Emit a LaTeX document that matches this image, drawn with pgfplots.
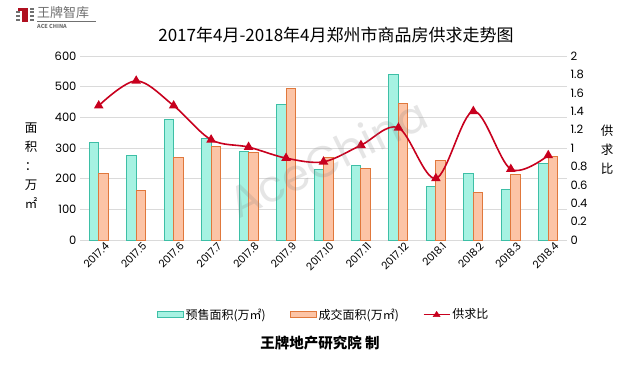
\documentclass[border=0pt]{standalone}
\usepackage{pgfplots}
\pgfplotsset{compat=1.18}
\usepackage{pgfplotstable}
\usepackage{fontspec}
\setmainfont{Noto Sans CJK SC}
\newfontfamily\numfont{Poppins}
\definecolor{tealfill}{HTML}{A6F2E2}
\definecolor{tealedge}{HTML}{3DBFA6}
\definecolor{orfill}{HTML}{FCC4A6}
\definecolor{oredge}{HTML}{E0783C}
\definecolor{linered}{HTML}{C8001E}
\definecolor{gridgray}{HTML}{DADADA}
\definecolor{logored}{HTML}{B01020}
\definecolor{logogray}{HTML}{707070}
\pgfplotstableread{
x pre deal ratio
0 317 218 1.46
1 276 160 1.73
2 392 269 1.46
3 332 304 1.09
4 290 285 1.01
5 443 494 0.89
6 231 268 0.85
7 243 234 1.03
8 541 445 1.22
9 176 260 0.67
10 216 155 1.40
11 166 214 0.77
12 251 271 0.92
}\datatable
\begin{document}
\begin{tikzpicture}[x=1pt,y=1pt]
\useasboundingbox (0,0) rectangle (640,365);
\fill[white] (0,0) rectangle (640,365);
% logo
\fill[logored] (22,343) rectangle (28,357);
\fill[logored] (18,354) rectangle (28,357);
\foreach \yy in {343.5,347.5,351.5,355}{\fill[logogray] (30,\yy) rectangle (34,\yy+2);}
\foreach \yy in {343.5,347.5,351.5}{\fill[logogray] (16,\yy) rectangle (20,\yy+2);}
\node[anchor=west,inner sep=0pt,font=\fontsize{13}{13}\selectfont,text=logogray] at (37,352) {王牌智库};
\draw[logogray,line width=0.4pt] (37,344) -- (96,344);
\node[anchor=west,inner sep=0pt,font=\fontsize{5.5}{6}\selectfont\bfseries,text=logogray] at (37,339) {ACE CHINA};
% title
\node[font=\fontsize{17}{17}\selectfont] at (336,330) {2017年4月-2018年4月郑州市商品房供求走势图};
\begin{axis}[
  at={(80pt,125pt)}, anchor=south west,
  width=487pt, height=184pt, scale only axis,
  xmin=-0.5, xmax=12.5, ymin=0, ymax=600,
  ytick={0,100,...,600},
  xtick={0,...,12},
  xticklabels={2017.4,2017.5,2017.6,2017.7,2017.8,2017.9,2017.10,2017.11,2017.12,2018.1,2018.2,2018.3,2018.4},
  xticklabel style={rotate=45, anchor=east, font=\numfont\fontsize{10.5}{10.5}\selectfont, inner sep=0pt, yshift=-9pt, xshift=3pt},
  yticklabel style={font=\numfont\fontsize{11.5}{12}\selectfont, text=black},
  /pgf/number format/assume math mode=true,
  axis y line*=left, axis x line*=bottom,
  y axis line style={draw=none},
  x axis line style={draw=gridgray, line width=0.8pt},
  major tick length=0pt,
  ymajorgrids, grid style={gridgray, line width=0.7pt},
  ybar=0pt, bar width=9.5pt,
  legend style={at={(0.5,-0.35)}, anchor=north, draw=none, legend columns=3,
    font=\fontsize{12}{12}\selectfont,
    /tikz/every even column/.append style={column sep=22pt}},
  legend image code/.code={\draw[#1] (0pt,-3pt) rectangle (26pt,3pt);},
  clip=false,
]
\addplot[fill=tealfill, draw=tealedge, line width=1pt] table[x=x,y=pre] {\datatable};
\addlegendentry{预售面积(万㎡)}
\addplot[fill=orfill, draw=oredge, line width=1pt] table[x=x,y=deal] {\datatable};
\addlegendentry{成交面积(万㎡)}
\addlegendimage{legend image code/.code={\draw[linered, line width=1.6pt] (0pt,0pt) -- (26pt,0pt); \fill[linered] (13pt,3.2pt) -- (9.5pt,-2pt) -- (16.5pt,-2pt) -- cycle;}}
\addlegendentry{供求比}
\end{axis}
\begin{axis}[
  at={(80pt,125pt)}, anchor=south west,
  width=487pt, height=184pt, scale only axis,
  xmin=-0.5, xmax=12.5, ymin=0, ymax=2,
  ytick={0,0.2,...,2.01},
  yticklabel style={font=\numfont\fontsize{11.5}{12}\selectfont, /pgf/number format/fixed, /pgf/number format/precision=1},
  /pgf/number format/assume math mode=true,
  axis y line*=right, axis x line=none,
  y axis line style={draw=none},
  major tick length=0pt,
  clip=false,
]
\addplot[linered, line width=1.6pt, smooth, tension=0.55, mark=triangle*, mark size=4pt, mark options={fill=linered, draw=linered}] table[x=x,y=ratio] {\datatable};
\end{axis}
% axis titles
\node[align=center, font=\fontsize{12.5}{19}\selectfont] at (31,199) {面\\积\\：\\万\\㎡};
\node[align=center, font=\fontsize{12.5}{19}\selectfont] at (607,215) {供\\求\\比};
% credit
\node[font=\fontsize{14.5}{15}\selectfont\bfseries] at (320,22) {王牌地产研究院 制};
% watermark
\node[rotate=26, font=\numfont\fontsize{44}{44}\selectfont, text=gray, opacity=0.2] at (328,207) {AceChina};
\end{tikzpicture}
\end{document}
